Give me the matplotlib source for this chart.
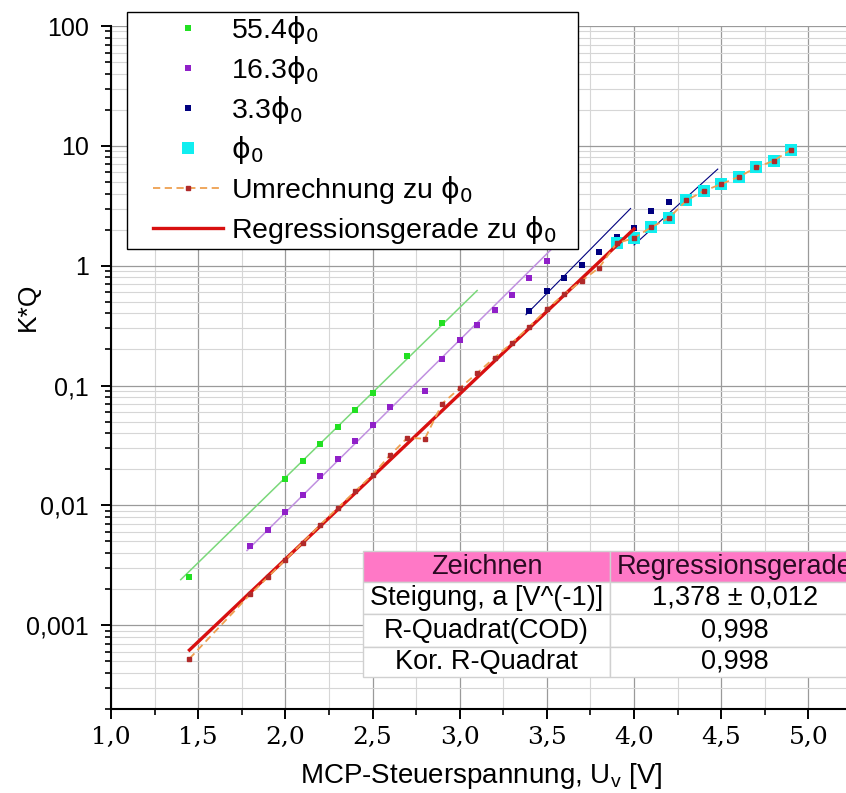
import matplotlib
matplotlib.use("Agg")
import matplotlib.pyplot as plt
import numpy as np
from matplotlib.lines import Line2D
from matplotlib.patches import Rectangle
from matplotlib.ticker import FixedLocator, FuncFormatter, LogLocator, MultipleLocator, NullFormatter

plt.rcParams['font.family'] = ['Liberation Sans', 'DejaVu Sans']
plt.rcParams['mathtext.fontset'] = 'dejavusans'

# ---- Messdaten (K*Q über MCP-Steuerspannung) ----
U_55 = [1.45, 2.0, 2.1, 2.2, 2.3, 2.4, 2.5, 2.7, 2.9]
KQ_55 = [0.00253, 0.0166, 0.0234, 0.0328, 0.0453, 0.0631, 0.0869, 0.176, 0.333]

U_16 = [1.8, 1.9, 2.0, 2.1, 2.2, 2.3, 2.4, 2.5, 2.6, 2.8, 2.9, 3.0, 3.1, 3.2, 3.3, 3.4, 3.5]
KQ_16 = [0.00454, 0.00625, 0.00873, 0.01225, 0.0177, 0.0245, 0.0344, 0.047, 0.066,
         0.090, 0.168, 0.239, 0.323, 0.428, 0.574, 0.787, 1.10]

U_3 = [3.4, 3.5, 3.6, 3.7, 3.8, 3.9, 4.0, 4.1, 4.2]
KQ_3 = [0.42, 0.61, 0.79, 1.01, 1.31, 1.75, 2.08, 2.87, 3.43]

U_1 = [3.9, 4.0, 4.1, 4.2, 4.3, 4.4, 4.5, 4.6, 4.7, 4.8, 4.9]
KQ_1 = [1.54, 1.7, 2.1, 2.5, 3.5, 4.2, 4.8, 5.5, 6.6, 7.5, 9.3]

# umgerechnet auf phi0
U_UMR = [1.45, 1.8, 1.9, 2.0, 2.1, 2.2, 2.3, 2.4, 2.5, 2.6, 2.7, 2.8, 2.9, 3.0, 3.1,
         3.2, 3.3, 3.4, 3.5, 3.6, 3.7, 3.8,
         3.9, 4.0, 4.1, 4.2, 4.3, 4.4, 4.5, 4.6, 4.7, 4.8, 4.9]
KQ_UMR = [5.26e-4, 0.00182, 0.00252, 0.00352, 0.0049, 0.00689, 0.0095, 0.0131, 0.018,
          0.0262, 0.0366, 0.036, 0.0708, 0.095, 0.127, 0.171, 0.227, 0.31, 0.433,
          0.581, 0.746, 0.964,
          1.54, 1.7, 2.1, 2.5, 3.5, 4.2, 4.8, 5.5, 6.6, 7.5, 9.3]

# Fitgeraden der Einzelmessungen (Endpunkte)
FIT_55 = ([1.40, 3.10], [0.0024, 0.62])
FIT_16 = ([1.78, 3.58], [0.0042, 1.64])
FIT_3A = ([3.38, 3.98], [0.39, 3.0])
FIT_3B = ([4.0, 4.48], [1.49, 6.4])

# Regressionsgerade log10(K*Q) = a*U + b
REG_SLOPE = 1.378
REG_ERR = 0.012
REG_INTERCEPT = -5.205
REG_U = [1.45, 4.0]
R2_COD = 0.998
R2_ADJ = 0.998

Y_TICKS = [0.001, 0.01, 0.1, 1, 10, 100]
Y_TICK_LABELS = ['0,001', '0,01', '0,1', '1', '10', '100']

TABLE_HEAD = ['Zeichnen', 'Regressionsgerade']
TABLE_ROWS = [
    ['Steigung, a [V^(-1)]', f'{REG_SLOPE:.3f} ± {REG_ERR:.3f}'.replace('.', ',')],
    ['R-Quadrat(COD)', f'{R2_COD:.3f}'.replace('.', ',')],
    ['Kor. R-Quadrat', f'{R2_ADJ:.3f}'.replace('.', ',')],
]

PHI0 = r'$\mathrm{\phi}_\mathrm{0}$'
LEGEND_LABELS = ['55.4' + PHI0, '16.3' + PHI0, '3.3' + PHI0, PHI0,
                 'Umrechnung zu ' + PHI0, 'Regressionsgerade zu ' + PHI0]

C_GREEN, C_GREEN_L = '#22e022', '#7ad87a'
C_PURPLE, C_PURPLE_L = '#9020c8', '#c090e0'
C_NAVY = '#00007f'
C_CYAN = '#10eef0'
C_REG = '#d81010'
C_UMR, C_UMR_M = '#eea050', '#b02a2a'

W, H = 846, 793
fig = plt.figure(figsize=(W / 100, H / 100), dpi=100)
ax = fig.add_axes([111 / W, 84 / H, 741 / W, 683 / H])


def fx(px):
    return px / W


def fy(py):
    return 1 - py / H


ax.set_yscale('log')
ax.set_xlim(1.0, 5.25)
ax.set_ylim(2e-4, 100)

# Fitgeraden
ax.plot(*FIT_55, color=C_GREEN_L, lw=1.1, zorder=2)
ax.plot(*FIT_16, color=C_PURPLE_L, lw=1.1, zorder=2)
ax.plot(*FIT_3A, color=C_NAVY, lw=0.8, zorder=2)
ax.plot(*FIT_3B, color=C_NAVY, lw=0.8, zorder=2)

# Messpunkte
ax.plot(U_55, KQ_55, 's', color=C_GREEN, ms=5, mew=0, zorder=3)
ax.plot(U_16, KQ_16, 's', color=C_PURPLE, ms=5, mew=0, zorder=3)
ax.plot(U_3, KQ_3, 's', color=C_NAVY, ms=5, mew=0, zorder=3)
ax.plot(U_1, KQ_1, 's', color=C_CYAN, ms=8.5, mew=0, zorder=3)

reg_u = np.array(REG_U)
reg_kq = 10 ** (REG_SLOPE * reg_u + REG_INTERCEPT)
ax.plot(reg_u, reg_kq, '-', color=C_REG, lw=2.4, zorder=4)
ax.plot(U_UMR, KQ_UMR, '--', color=C_UMR, lw=1.3, dashes=(4, 2.5), zorder=5,
        marker='s', ms=2.6, mfc=C_UMR_M, mec=C_UMR_M)

# Achsen
ax.xaxis.set_major_locator(MultipleLocator(0.5))
ax.xaxis.set_minor_locator(MultipleLocator(0.25))
ax.xaxis.set_major_formatter(FuncFormatter(lambda v, p: f'{v:.1f}'.replace('.', ',')))
ax.yaxis.set_major_locator(FixedLocator(Y_TICKS))
ax.yaxis.set_major_formatter(FuncFormatter(
    lambda v, p: Y_TICK_LABELS[Y_TICKS.index(v)] if v in Y_TICKS else ''))
ax.yaxis.set_minor_locator(LogLocator(base=10, subs=np.arange(2, 10), numticks=20))
ax.yaxis.set_minor_formatter(NullFormatter())

ax.grid(True, which='major', color='#9a9a9a', lw=0.9, zorder=0)
ax.grid(True, which='minor', color='#d6d6d6', lw=0.8, zorder=0)
ax.set_axisbelow(True)

for s in ['top', 'right']:
    ax.spines[s].set_visible(False)
for s in ['left', 'bottom']:
    ax.spines[s].set_linewidth(1.5)

ax.tick_params(axis='both', which='major', direction='out', length=7, width=1.4)
ax.tick_params(axis='both', which='minor', direction='out', length=4, width=1.2)
ax.tick_params(axis='x', which='major', labelsize=18, pad=5)
ax.tick_params(axis='y', which='major', labelsize=18, pad=9)
for lab in ax.get_xticklabels():
    lab.set_fontfamily('DejaVu Serif')

ax.set_xlabel('MCP-Steuerspannung, U$_\\mathregular{v}$ [V]', fontsize=20)
ax.set_ylabel('K*Q', fontsize=19)
ax.xaxis.set_label_coords(0.5, -0.098)
ax.xaxis.label.set_va('center')
ax.yaxis.set_label_coords(-0.112, 0.589)
ax.yaxis.label.set_va('center')

# Legende (Rahmen separat gezeichnet)
handles = [
    Line2D([], [], ls='none', marker='s', color=C_GREEN, ms=5, mew=0),
    Line2D([], [], ls='none', marker='s', color=C_PURPLE, ms=5, mew=0),
    Line2D([], [], ls='none', marker='s', color=C_NAVY, ms=5, mew=0),
    Line2D([], [], ls='none', marker='s', color=C_CYAN, ms=8, mew=0),
    Line2D([], [], ls='--', color=C_UMR, lw=1.3, dashes=(4, 2.5),
           marker='s', ms=2.6, mfc=C_UMR_M, mec=C_UMR_M),
    Line2D([], [], ls='-', color=C_REG, lw=2.4),
]
fig.patches.append(Rectangle((fx(127), fy(249)), fx(578) - fx(127), fy(12) - fy(249),
                             transform=fig.transFigure, facecolor='white',
                             edgecolor='black', lw=1.0, zorder=19))
leg = fig.legend(handles, LEGEND_LABELS, loc='upper left',
                 bbox_to_anchor=(fx(153), fy(14)), bbox_transform=fig.transFigure,
                 borderaxespad=0, borderpad=0, fontsize=20.5, frameon=False,
                 handlelength=2.45, handletextpad=0.3, labelspacing=0.28,
                 numpoints=1)
leg.set_zorder(20)

# Ergebnistabelle
col_x = [363, 610, 860]
row_y = [551, 582, 614, 647, 677]
for r in range(len(row_y) - 1):
    for c in range(len(col_x) - 1):
        face = '#ff78c6' if r == 0 else 'white'
        fig.patches.append(Rectangle((fx(col_x[c]), fy(row_y[r + 1])),
                                     fx(col_x[c + 1]) - fx(col_x[c]),
                                     fy(row_y[r]) - fy(row_y[r + 1]),
                                     transform=fig.transFigure, facecolor=face,
                                     edgecolor='#d0d0d0', lw=1.0, zorder=10))
cells = [TABLE_HEAD] + TABLE_ROWS
for r, row in enumerate(cells):
    yc = (row_y[r] + row_y[r + 1]) / 2
    for c, txt in enumerate(row):
        xc = (col_x[c] + col_x[c + 1]) / 2
        fig.text(fx(xc), fy(yc), txt, ha='center', va='center', fontsize=19.5,
                 color='#2a0a22' if r == 0 else 'black', zorder=11)

fig.savefig('out.png', dpi=100)
